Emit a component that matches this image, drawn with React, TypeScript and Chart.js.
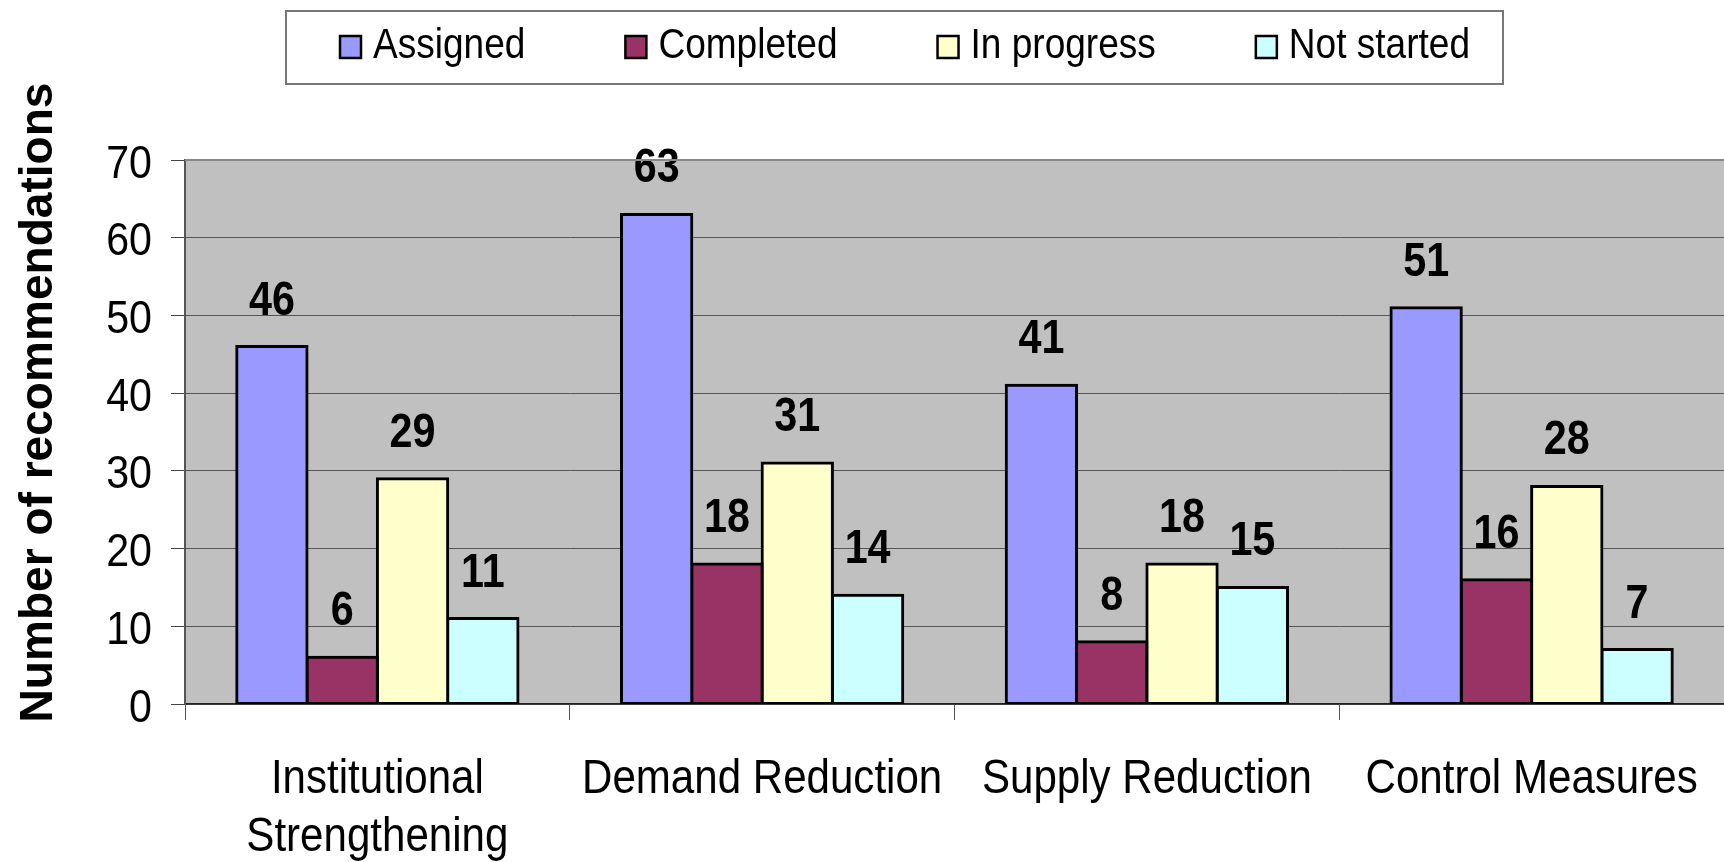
import React, { useEffect, useRef } from "react";
import { Chart, registerables } from "chart.js";

Chart.register(...registerables);

const categories: string[][] = [
  ["Institutional", "Strengthening"],
  ["Demand Reduction"],
  ["Supply Reduction"],
  ["Control Measures"],
];
const seriesNames = ["Assigned", "Completed", "In progress", "Not started"];
const assigned = [46, 63, 41, 51];
const completed = [6, 18, 8, 16];
const inProgress = [29, 31, 18, 28];
const notStarted = [11, 14, 15, 7];
const seriesColors = ["#9999FF", "#993366", "#FFFFCC", "#CCFFFF"];
const yTitle = "Number of recommendations";

const SANS = "'Liberation Sans', Arial, sans-serif";
const K = 0.886; // horizontal condensing of regular text
const KL = 0.882; // legend text condensing
const KB = 0.86; // condensing of bold value labels

function drawText(ctx: CanvasRenderingContext2D, text: string, x: number, y: number, font: string, k: number, align: CanvasTextAlign) {
  ctx.save();
  ctx.translate(x, y);
  ctx.scale(k, 1);
  ctx.font = font;
  ctx.textAlign = align;
  ctx.textBaseline = "alphabetic";
  ctx.fillStyle = "#000";
  ctx.fillText(text, 0, 0);
  ctx.restore();
}

const bgPlugin = {
  id: "plotBg",
  beforeDraw(chart: any) {
    const { ctx, chartArea } = chart;
    ctx.save();
    ctx.fillStyle = "#C0C0C0";
    ctx.fillRect(chartArea.left, chartArea.top, chartArea.right - chartArea.left, chartArea.bottom - chartArea.top);
    ctx.restore();
  },
  afterDraw(chart: any) {
    const { ctx, chartArea } = chart;
    ctx.save();
    ctx.strokeStyle = "#888888";
    ctx.lineWidth = 2;
    ctx.beginPath();
    ctx.moveTo(chartArea.left, chartArea.top);
    ctx.lineTo(chartArea.right, chartArea.top);
    ctx.stroke();
    ctx.restore();
  },
};

const labelPlugin = {
  id: "valueLabels",
  afterDatasetsDraw(chart: any) {
    const { ctx } = chart;
    chart.data.datasets.forEach((ds: any, i: number) => {
      const meta = chart.getDatasetMeta(i);
      meta.data.forEach((el: any, j: number) => {
        drawText(ctx, String(ds.data[j]), el.x, el.y - 32, `bold 48px ${SANS}`, KB, "center");
      });
    });
  },
};

const axisLabelPlugin = {
  id: "axisLabels",
  afterDraw(chart: any) {
    const { ctx } = chart;
    const ys = chart.scales.y;
    ys.ticks.forEach((t: any) => {
      const y = ys.getPixelForValue(t.value);
      drawText(ctx, String(t.value), 152, y + 17.5, `46.5px ${SANS}`, K, "right");
    });
    const xs = chart.scales.x;
    categories.forEach((lines, i) => {
      const x = xs.getPixelForValue(i);
      lines.forEach((line, li) => {
        drawText(ctx, line, x, xs.top + 89 + li * 58, `47.5px ${SANS}`, K, "center");
      });
    });
    ctx.save();
    ctx.translate(52, 402.5);
    ctx.rotate(-Math.PI / 2);
    ctx.scale(0.98, 1);
    ctx.font = `bold 47px ${SANS}`;
    ctx.textAlign = "center";
    ctx.textBaseline = "alphabetic";
    ctx.fillStyle = "#000";
    ctx.fillText(yTitle, 0, 0);
    ctx.restore();
  },
};

const legendPlugin = {
  id: "boxLegend",
  afterDraw(chart: any) {
    const { ctx } = chart;
    const boxL = 286, boxR = 1503, boxT = 11, boxB = 84;
    ctx.save();
    ctx.fillStyle = "#fff";
    ctx.fillRect(boxL, boxT, boxR - boxL, boxB - boxT);
    ctx.strokeStyle = "#777";
    ctx.lineWidth = 2;
    ctx.strokeRect(boxL, boxT, boxR - boxL, boxB - boxT);
    const font = `42px ${SANS}`;
    let x = 340;
    chart.data.datasets.forEach((ds: any) => {
      ctx.fillStyle = ds.backgroundColor;
      ctx.fillRect(x, 36, 21, 22);
      ctx.strokeStyle = "#000";
      ctx.lineWidth = 2.5;
      ctx.strokeRect(x, 36, 21, 22);
      drawText(ctx, ds.label, x + 33, 58.3, font, KL, "left");
      ctx.font = font;
      const w = ctx.measureText(ds.label).width * KL;
      x += 33 + w + 100;
    });
    ctx.restore();
  },
};

export default function App() {
  const ref = useRef<HTMLCanvasElement>(null);
  useEffect(() => {
    if (!ref.current) return;
    const dataArrays = [assigned, completed, inProgress, notStarted];
    const chart = new Chart(ref.current, {
      type: "bar",
      data: {
        labels: categories.map((c) => c.join(" ")),
        datasets: dataArrays.map((d, i) => ({
          label: seriesNames[i],
          data: d,
          backgroundColor: seriesColors[i],
          borderColor: "#000",
          borderWidth: 3,
          borderSkipped: false,
          inflateAmount: 1.5,
          categoryPercentage: 0.731,
          barPercentage: 1,
        })),
      },
      options: {
        responsive: false,
        animation: false,
        devicePixelRatio: 1,
        layout: { padding: { top: 160, left: 0, right: 0, bottom: 0 } },
        plugins: {
          legend: { display: false },
          tooltip: { enabled: false },
          title: { display: false },
        },
        scales: {
          x: {
            offset: true,
            grid: { offset: true, drawOnChartArea: false, tickLength: 16, color: "#555", lineWidth: 1 },
            border: { color: "#222", width: 1.5 },
            ticks: { display: false, autoSkip: false },
            afterFit(scale: any) {
              scale.height = 158;
              scale.paddingLeft = 0;
              scale.paddingRight = 0;
            },
          },
          y: {
            min: 0,
            max: 70,
            ticks: { stepSize: 10, display: false },
            grid: { color: "#555", lineWidth: 1, tickLength: 14, tickColor: "#444" },
            border: { color: "#555", width: 2 },
            afterFit(scale: any) {
              scale.width = 185;
              scale.paddingTop = 0;
              scale.paddingBottom = 0;
            },
          },
        },
      },
      plugins: [bgPlugin, labelPlugin, axisLabelPlugin, legendPlugin],
    } as any);
    return () => chart.destroy();
  }, []);
  return (
    <div style={{ position: "absolute", left: 0, top: 0, width: 1724, height: 862, background: "#fff" }}>
      <canvas ref={ref} width={1724} height={862} style={{ display: "block" }} />
    </div>
  );
}
